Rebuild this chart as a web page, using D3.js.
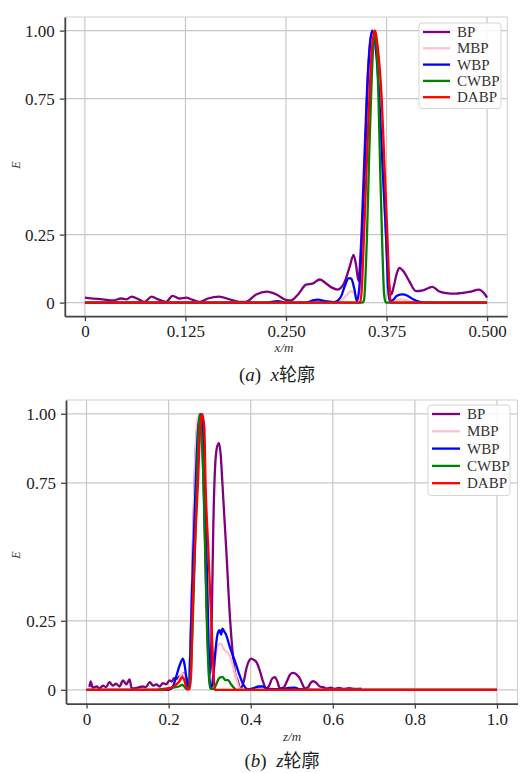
<!DOCTYPE html>
<html lang="zh">
<head>
<meta charset="UTF-8">
<title>x / z profiles</title>
<script src="https://cdn.jsdelivr.net/npm/d3@7"></script>
<style>
  body { margin: 0; background: #fff; }
  svg { display: block; }
</style>
</head>
<body>
<svg id="chart" width="526" height="773"></svg>
<script>
// ---- data ----
var seriesNames = ["BP", "MBP", "WBP", "CWBP", "DABP"];

// panel (a): x profile, [x (m), E]
var bpX = [[0,0.018],[0.01,0.015],[0.022,0.012],[0.035,0.008],[0.045,0.015],[0.052,0.012],[0.058,0.022],[0.068,0.01],[0.074,0.003],[0.083,0.022],[0.091,0.012],[0.101,0.003],[0.109,0.025],[0.118,0.015],[0.126,0.018],[0.134,0.01],[0.143,0.003],[0.153,0.015],[0.167,0.022],[0.18,0.012],[0.192,0.003],[0.2,0.003],[0.213,0.03],[0.226,0.04],[0.238,0.03],[0.25,0.01],[0.256,0.008],[0.265,0.03],[0.275,0.066],[0.283,0.07],[0.292,0.085],[0.3,0.07],[0.307,0.055],[0.314,0.048],[0.322,0.07],[0.329,0.13],[0.334,0.175],[0.337,0.14],[0.34,0.08],[0.343,0.2],[0.347,0.5],[0.351,0.8],[0.355,0.97],[0.358,1.0],[0.362,0.96],[0.366,0.8],[0.37,0.55],[0.374,0.28],[0.378,0.07],[0.381,0.03],[0.384,0.06],[0.388,0.11],[0.391,0.128],[0.396,0.115],[0.403,0.08],[0.4115,0.042],[0.42,0.045],[0.432,0.058],[0.44,0.042],[0.449,0.035],[0.461,0.033],[0.47,0.036],[0.478,0.039],[0.49,0.048],[0.496,0.035],[0.5,0.018]];
var mbpX = [[0,0],[0.28,0],[0.29,0.005],[0.3,0],[0.318,0.005],[0.326,0.03],[0.331,0.042],[0.336,0.03],[0.34,0.01],[0.343,0.06],[0.347,0.3],[0.351,0.62],[0.355,0.9],[0.359,1.0],[0.363,0.93],[0.367,0.72],[0.371,0.45],[0.375,0.2],[0.378,0.05],[0.381,0.005],[0.386,0.008],[0.392,0.012],[0.4,0.008],[0.41,0],[0.5,0]];
var wbpX = [[0,0],[0.225,0],[0.24,0.005],[0.25,0],[0.275,0],[0.283,0.008],[0.29,0.011],[0.297,0.006],[0.31,0.002],[0.318,0.02],[0.323,0.06],[0.328,0.09],[0.331,0.088],[0.335,0.05],[0.338,0.005],[0.341,0.05],[0.3445,0.25],[0.348,0.5],[0.3507,0.75],[0.354,0.93],[0.357,1.0],[0.361,0.95],[0.366,0.75],[0.37,0.5],[0.3743,0.25],[0.377,0.05],[0.379,0.005],[0.383,0.01],[0.388,0.025],[0.395,0.03],[0.401,0.025],[0.408,0.012],[0.415,0.004],[0.425,0],[0.5,0]];
var cwbpX = [[0,0],[0.345,0],[0.347,0.01],[0.3507,0.25],[0.3535,0.55],[0.3557,0.75],[0.358,0.92],[0.3605,1.0],[0.363,0.92],[0.365,0.75],[0.367,0.5],[0.3693,0.25],[0.372,0.03],[0.374,0],[0.5,0]];
var dabpX = [[0,0],[0.342,0],[0.344,0.04],[0.347,0.25],[0.3505,0.52],[0.3536,0.75],[0.357,0.94],[0.3605,1.0],[0.364,0.94],[0.369,0.75],[0.3725,0.5],[0.376,0.25],[0.3785,0.06],[0.38,0],[0.5,0]];

// panel (b): z profile, [z (m), E]
var bpZ = [[0.007,0.01],[0.01,0.03],[0.015,0.008],[0.025,0.012],[0.032,0.005],[0.04,0.015],[0.048,0.01],[0.056,0.028],[0.064,0.015],[0.072,0.022],[0.08,0.012],[0.089,0.034],[0.097,0.02],[0.105,0.038],[0.109,0.01],[0.113,0.005],[0.125,0.008],[0.137,0.012],[0.145,0.01],[0.154,0.028],[0.162,0.015],[0.17,0.02],[0.178,0.012],[0.186,0.024],[0.194,0.02],[0.202,0.034],[0.208,0.03],[0.213,0.042],[0.22,0.04],[0.226,0.048],[0.231,0.052],[0.236,0.06],[0.241,0.05],[0.246,0.03],[0.25,0.05],[0.254,0.2],[0.259,0.5],[0.264,0.78],[0.27,0.95],[0.276,0.98],[0.281,0.93],[0.286,0.7],[0.291,0.4],[0.296,0.15],[0.302,0.06],[0.305,0.25],[0.309,0.6],[0.313,0.8],[0.318,0.88],[0.3228,0.894],[0.327,0.85],[0.331,0.75],[0.3407,0.5],[0.35,0.25],[0.357,0.12],[0.362,0.06],[0.368,0.034],[0.375,0.005],[0.383,0.03],[0.39,0.08],[0.396,0.105],[0.401,0.113],[0.408,0.108],[0.414,0.1],[0.422,0.07],[0.43,0.03],[0.438,0.005],[0.445,0.015],[0.452,0.04],[0.459,0.046],[0.465,0.03],[0.471,0.005],[0.48,0.008],[0.488,0.03],[0.496,0.055],[0.503,0.061],[0.512,0.055],[0.52,0.04],[0.526,0.02],[0.532,0.005],[0.54,0.01],[0.546,0.025],[0.552,0.031],[0.56,0.025],[0.568,0.012],[0.576,0.01],[0.585,0.004],[0.595,0.008],[0.605,0.003],[0.615,0.007],[0.625,0.003],[0.64,0.006],[0.655,0.003],[0.67,0.004]];
var mbpZ = [[0,0],[0.18,0],[0.2,0.005],[0.215,0.015],[0.225,0.035],[0.233,0.06],[0.238,0.055],[0.244,0.02],[0.248,0],[0.252,0.1],[0.258,0.45],[0.264,0.8],[0.27,0.98],[0.278,1.0],[0.285,0.85],[0.29,0.55],[0.295,0.25],[0.299,0.05],[0.303,0.01],[0.308,0.05],[0.314,0.12],[0.32,0.16],[0.328,0.167],[0.333,0.15],[0.34,0.14],[0.35,0.12],[0.358,0.08],[0.366,0.035],[0.373,0.005],[0.385,0],[1.0,0]];
var wbpZ = [[0,0],[0.2,0],[0.21,0.01],[0.218,0.046],[0.227,0.089],[0.235,0.113],[0.239,0.09],[0.243,0.046],[0.247,0.005],[0.25,0.02],[0.255,0.25],[0.26,0.5],[0.266,0.75],[0.272,0.95],[0.279,1.0],[0.285,0.9],[0.289,0.7],[0.293,0.45],[0.297,0.2],[0.3,0.03],[0.304,0.005],[0.309,0.05],[0.314,0.14],[0.319,0.2],[0.324,0.216],[0.328,0.2],[0.331,0.222],[0.336,0.21],[0.34,0.2],[0.348,0.16],[0.355,0.13],[0.361,0.107],[0.37,0.065],[0.381,0.022],[0.393,0.002],[0.405,0.005],[0.42,0.012],[0.43,0.012],[0.44,0.004],[0.47,0.002],[0.49,0.006],[0.507,0.008],[0.52,0.002],[0.55,0],[1.0,0]];
var cwbpZ = [[0,0],[0.17,0],[0.19,0.004],[0.21,0.008],[0.225,0.012],[0.233,0.018],[0.238,0.012],[0.244,0.002],[0.25,0.01],[0.253,0.05],[0.259,0.25],[0.264,0.5],[0.269,0.75],[0.273,0.95],[0.2756,1.0],[0.279,0.95],[0.285,0.75],[0.289,0.5],[0.293,0.25],[0.298,0.05],[0.302,0.003],[0.31,0.003],[0.316,0.02],[0.322,0.04],[0.328,0.046],[0.332,0.046],[0.338,0.035],[0.345,0.035],[0.352,0.02],[0.36,0.006],[0.365,0],[1.0,0]];
var dabpZ = [[0,0],[0.19,0],[0.2,0.004],[0.21,0.01],[0.218,0.018],[0.225,0.028],[0.23,0.04],[0.233,0.046],[0.237,0.04],[0.242,0.015],[0.246,0.002],[0.251,0.002],[0.255,0.06],[0.258,0.25],[0.265,0.55],[0.2715,0.75],[0.277,0.95],[0.282,1.0],[0.287,0.95],[0.29,0.75],[0.297,0.5],[0.304,0.25],[0.309,0.08],[0.312,0],[1.0,0]];

// ticks
var xTicksA = [0, 0.125, 0.25, 0.375, 0.5];
var xTickLabelsA = ["0", "0.125", "0.250", "0.375", "0.500"];
var xTicksB = [0, 0.2, 0.4, 0.6, 0.8, 1.0];
var xTickLabelsB = ["0", "0.2", "0.4", "0.6", "0.8", "1.0"];
var yTicks = [0, 0.25, 0.75, 1.0];
var yTickLabels = ["0", "0.25", "0.75", "1.00"];

// ---- drawing ----
var colors = ["#800080", "#ffc0cb", "#0000ff", "#008000", "#ff0000"];
var serif = "'Liberation Serif', 'Times New Roman', serif";
var svg = d3.select("#chart");

function drawPanel(opt) {
  var g = svg.append("g");
  var x = d3.scaleLinear().domain(opt.xDomain).range([opt.left, opt.right]);
  var y = d3.scaleLinear().domain([-0.05, 1.05]).range([opt.bottom, opt.top]);

  // grid
  g.append("g").selectAll("line").data(opt.xTicks).join("line")
    .attr("x1", function(d) { return x(d); }).attr("x2", function(d) { return x(d); })
    .attr("y1", opt.top).attr("y2", opt.bottom)
    .attr("stroke", "#c8c8c8").attr("stroke-width", 1.2);
  g.append("g").selectAll("line").data(yTicks).join("line")
    .attr("x1", opt.left).attr("x2", opt.right)
    .attr("y1", function(d) { return y(d); }).attr("y2", function(d) { return y(d); })
    .attr("stroke", "#c8c8c8").attr("stroke-width", 1.2);

  // light top / right frame
  g.append("path")
    .attr("d", "M" + opt.left + "," + opt.top + "H" + opt.right + "V" + opt.bottom)
    .attr("fill", "none").attr("stroke", "#cfcfcf").attr("stroke-width", 1);

  // clip + lines
  var clipId = "clip-" + opt.id;
  svg.append("clipPath").attr("id", clipId).append("rect")
    .attr("x", opt.left).attr("y", opt.top)
    .attr("width", opt.right - opt.left).attr("height", opt.bottom - opt.top);

  var line = d3.line()
    .x(function(d) { return x(d[0]); })
    .y(function(d) { return y(d[1]); })
    .curve(d3.curveMonotoneX);

  g.append("g").attr("clip-path", "url(#" + clipId + ")")
    .selectAll("path").data(opt.series).join("path")
    .attr("d", line)
    .attr("fill", "none")
    .attr("stroke", function(d, i) { return colors[i]; })
    .attr("stroke-width", 2.3)
    .attr("stroke-linejoin", "round");

  // axes
  var xAxis = d3.axisBottom(x).tickValues(opt.xTicks)
    .tickFormat(function(d, i) { return opt.xLabels[i]; })
    .tickSize(5).tickPadding(4).tickSizeOuter(0);
  var gx = g.append("g").attr("transform", "translate(0," + opt.bottom + ")").call(xAxis);
  gx.select(".domain").attr("stroke", "#444").attr("stroke-width", 1.8);
  gx.selectAll(".tick line").attr("stroke", "#444").attr("stroke-width", 1.3);

  var yAxis = d3.axisLeft(y).tickValues(yTicks)
    .tickFormat(function(d, i) { return yTickLabels[i]; })
    .tickSize(5).tickPadding(5).tickSizeOuter(0);
  var gy = g.append("g").attr("transform", "translate(" + opt.left + ",0)").call(yAxis);
  gy.select(".domain").attr("stroke", "#444").attr("stroke-width", 1.8);
  gy.selectAll(".tick line").attr("stroke", "#444").attr("stroke-width", 1.3);

  g.selectAll(".tick text")
    .style("font-family", serif).style("font-size", "17px").attr("fill", "#222");

  // axis titles
  g.append("text")
    .attr("transform", "translate(" + opt.yLabelX + "," + opt.yLabelY + ") rotate(-90)")
    .attr("text-anchor", "middle")
    .style("font-family", serif).style("font-style", "italic")
    .style("font-size", "12px").attr("fill", "#333")
    .text("E");
  g.append("text")
    .attr("x", opt.xLabelX).attr("y", opt.xLabelY)
    .attr("text-anchor", "middle")
    .style("font-family", serif).style("font-style", "italic")
    .style("font-size", "13px").attr("fill", "#333")
    .text(opt.xTitle);

  // caption
  var cap = g.append("text")
    .attr("x", opt.capX).attr("y", opt.capY)
    .attr("text-anchor", "middle")
    .style("font-family", serif)
    .style("font-size", "19px").attr("fill", "#222");
  cap.append("tspan").text("(");
  cap.append("tspan").style("font-style", "italic").text(opt.capLetter);
  cap.append("tspan").text(")\u00a0\u00a0");
  cap.append("tspan").style("font-style", "italic").text(opt.capVar);
  cap.append("tspan").style("font-family", "'Noto Sans CJK SC', sans-serif").style("font-size", "18px").text("轮廓");

  // legend
  var lg = g.append("g").attr("transform", "translate(" + opt.legX + "," + opt.legY + ")");
  lg.append("rect")
    .attr("x", 0).attr("y", 0).attr("width", opt.legW).attr("height", opt.legStep * 5 + 4)
    .attr("rx", 3).attr("fill", "rgba(255,255,255,0.85)")
    .attr("stroke", "#d5d5d5").attr("stroke-width", 1);
  var rows = lg.selectAll("g.row").data(seriesNames).join("g")
    .attr("class", "row")
    .attr("transform", function(d, i) { return "translate(0," + (opt.legFirst + i * opt.legStep) + ")"; });
  rows.append("line")
    .attr("x1", 4).attr("x2", opt.legLine)
    .attr("stroke", function(d, i) { return colors[i]; })
    .attr("stroke-width", 2.3);
  rows.append("text")
    .attr("x", opt.legLine + 7).attr("y", 5)
    .style("font-family", serif).style("font-size", "15px")
    .attr("fill", "#333")
    .text(function(d) { return d; });
}

drawPanel({
  id: "a", xDomain: [-0.025, 0.525], left: 64.8, right: 507.2, top: 17, bottom: 316.2,
  xTicks: xTicksA, xLabels: xTickLabelsA,
  series: [bpX, mbpX, wbpX, cwbpX, dabpX],
  yLabelX: 20, yLabelY: 165, xLabelX: 284, xLabelY: 352, xTitle: "x/m",
  capX: 277, capY: 381, capLetter: "a", capVar: "x",
  legX: 419, legY: 23, legW: 82, legStep: 16.3, legFirst: 9, legLine: 31
});

drawPanel({
  id: "b", xDomain: [-0.05, 1.05], left: 66, right: 517.5, top: 400, bottom: 703.6,
  xTicks: xTicksB, xLabels: xTickLabelsB,
  series: [bpZ, mbpZ, wbpZ, cwbpZ, dabpZ],
  yLabelX: 20, yLabelY: 555, xLabelX: 292, xLabelY: 741, xTitle: "z/m",
  capX: 282, capY: 767, capLetter: "b", capVar: "z",
  legX: 428, legY: 405, legW: 82, legStep: 17.3, legFirst: 9, legLine: 32
});
</script>
</body>
</html>
